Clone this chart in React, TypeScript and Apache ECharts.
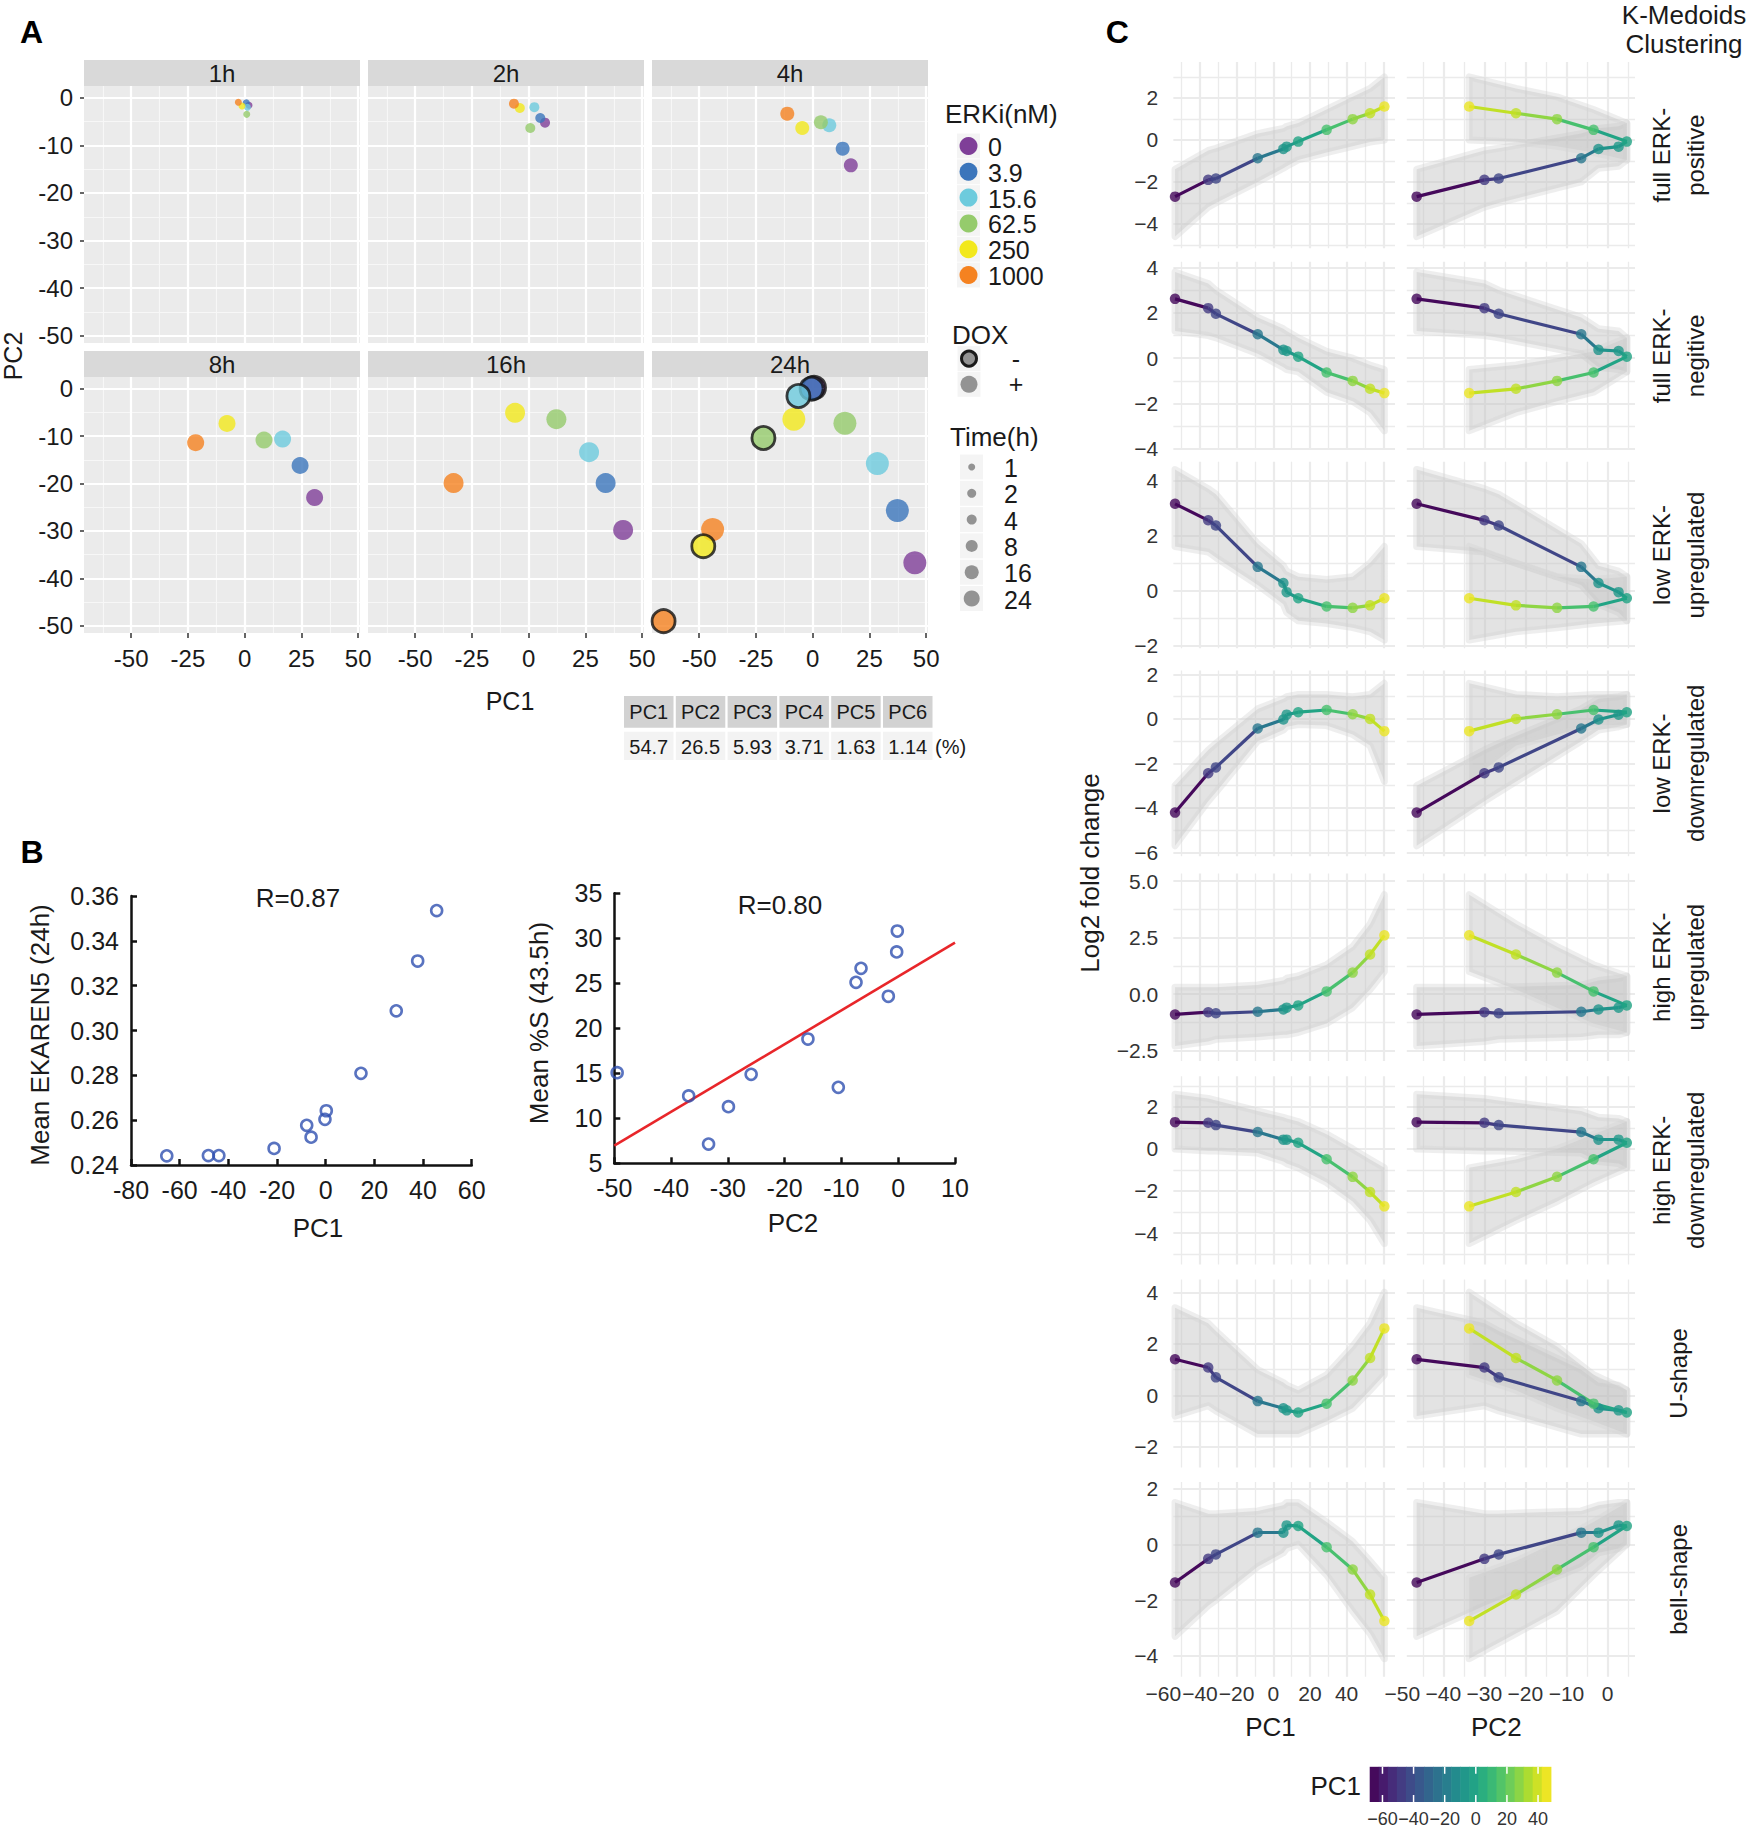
import React, { useEffect, useRef } from "react";
import * as echarts from "echarts";

const W = 1748;
const H = 1828;
const FONT = '"Liberation Sans", Arial, Helvetica, sans-serif';

// ================= Panel A data =================
const erkiLevels = ["0", "3.9", "15.6", "62.5", "250", "1000"];
const timeLabels = ["1h", "2h", "4h", "8h", "16h", "24h"];
const timeLegend = ["1", "2", "4", "8", "16", "24"];
const doxLegend = ["-", "+"];
// PC1 / PC2 for each time point (DOX +), ordered by ERKi level 0 .. 1000
const pc1_1h = [1.9, 0.7, 1.2, 0.9, -1.2, -2.8];
const pc2_1h = [-1.6, -1.05, -2.0, -3.5, -1.74, -0.97];
const pc1_2h = [7.2, 5.1, 2.5, 0.7, -3.9, -6.5];
const pc2_2h = [-5.24, -4.26, -2.0, -6.36, -2.16, -1.25];
const pc1_4h = [16.8, 13.2, 7.3, 3.6, -4.6, -11.2];
const pc2_4h = [-14.2, -10.7, -5.8, -5.17, -6.36, -3.35];
const pc1_8h = [30.8, 24.4, 16.7, 8.5, -7.8, -21.6];
const pc2_8h = [-22.95, -16.2, -10.64, -10.85, -7.35, -11.4];
const pc1_16h = [41.6, 33.9, 26.6, 12.2, -6.0, -33.1];
const pc2_16h = [-29.8, -19.9, -13.4, -6.44, -5.1, -19.9];
const pc1_24h = [45.0, 37.3, 28.5, 14.2, -8.3, -44.1];
const pc2_24h = [-36.7, -25.7, -15.8, -7.28, -6.44, -29.7];
// 24h without DOX
const pc1_24h_noDox = [0.6, -0.5, -6.3, -21.7, -48.2, -65.7];
const pc2_24h_noDox = [0.2, 0.0, -1.55, -10.4, -33.2, -49.0];
// variance explained
const pcNames = ["PC1", "PC2", "PC3", "PC4", "PC5", "PC6"];
const pcVariance = ["54.7", "26.5", "5.93", "3.71", "1.63", "1.14"];

// ================= Panel B data =================
const pc1_B = [-65.3, -48.2, -43.9, -21.2, -7.8, -6.0, -0.3, 0.25, 14.5, 29.0, 37.8, 45.6];
const ekaren5_B = [0.2441, 0.2442, 0.2442, 0.2474, 0.2577, 0.2524, 0.2604, 0.2642, 0.2809, 0.3088, 0.331, 0.3535];
const pc2_B = [-49.5, -36.9, -33.4, -29.9, -25.9, -15.9, -10.55, -7.43, -6.55, -1.74, -0.27, -0.16];
const sPhase_B = [15.07, 12.48, 7.14, 11.29, 14.89, 18.81, 13.44, 25.11, 26.67, 23.56, 28.48, 30.81];
const fitX = [-50, 10];
const fitY = [6.96, 29.51];

// ================= Panel C data =================
const pc1C = [-53.6, -35.5, -31.3, -8.5, 5.5, 7.3, 13.6, 29.1, 43.3, 52.8, 60.6];
const pc2C = [-46.5, -30.0, -26.5, -6.4, -2.2, 2.7, 4.7, -3.4, -12.3, -22.3, -33.7];
const colorPC1 = [-65.7, -48.2, -44.1, -21.7, -8.3, -6.3, -0.5, 14.2, 28.5, 37.3, 45.0];

const fcFullPos = [-2.7, -1.9, -1.84, -0.87, -0.43, -0.32, -0.08, 0.48, 0.99, 1.27, 1.59];
const hiFullPos = [-1.4, -0.5, -0.4, 0.3, 0.55, 0.65, 0.8, 1.45, 2.05, 2.45, 3.0];
const loFullPos = [-4.6, -3.2, -3.0, -2.0, -1.35, -1.25, -0.95, -0.6, -0.3, -0.1, 0.0];

const fcFullNeg = [2.62, 2.21, 1.96, 1.06, 0.37, 0.32, 0.07, -0.63, -1.0, -1.35, -1.54];
const hiFullNeg = [3.8, 3.3, 3.0, 1.8, 1.3, 1.2, 0.9, 0.3, 0.0, -0.3, -0.5];
const loFullNeg = [1.2, 1.0, 0.9, 0.2, -0.4, -0.5, -0.6, -1.5, -1.9, -2.4, -3.2];

const fcLowUp = [3.15, 2.55, 2.36, 0.86, 0.27, -0.06, -0.28, -0.58, -0.63, -0.54, -0.28];
const hiLowUp = [4.4, 3.7, 3.5, 1.7, 0.9, 0.7, 0.5, 0.4, 0.5, 1.0, 1.6];
const loLowUp = [1.6, 1.4, 1.2, 0.2, -0.5, -0.8, -1.1, -1.2, -1.35, -1.5, -1.8];

const fcLowDown = [-4.21, -2.44, -2.18, -0.43, -0.03, 0.19, 0.3, 0.4, 0.21, 0.0, -0.55];
const hiLowDown = [-3.0, -1.4, -1.1, 0.45, 0.9, 1.0, 1.1, 1.1, 1.0, 1.1, 1.6];
const loLowDown = [-5.7, -3.7, -3.3, -1.0, -0.5, -0.35, -0.25, -0.3, -0.7, -1.2, -2.8];

const fcHighUp = [-0.9, -0.8, -0.85, -0.78, -0.68, -0.6, -0.5, 0.12, 0.95, 1.75, 2.6];
const hiHighUp = [0.3, 0.3, 0.3, 0.4, 0.6, 0.7, 0.8, 1.3, 2.1, 3.1, 4.4];
const loHighUp = [-2.3, -2.1, -2.0, -1.9, -1.8, -1.8, -1.7, -1.3, -0.6, 0.2, 1.0];

const fcHighDown = [1.27, 1.24, 1.13, 0.8, 0.44, 0.44, 0.29, -0.49, -1.33, -2.05, -2.73];
const hiHighDown = [2.6, 2.4, 2.3, 1.8, 1.5, 1.45, 1.3, 0.7, 0.0, -0.5, -0.9];
const loHighDown = [0.0, -0.1, -0.1, -0.2, -0.6, -0.7, -0.9, -1.6, -2.5, -3.4, -4.5];

const fcUShape = [1.4, 1.08, 0.7, -0.22, -0.5, -0.58, -0.66, -0.32, 0.58, 1.45, 2.6];
const hiUShape = [3.4, 2.8, 2.5, 1.0, 0.5, 0.4, 0.2, 0.8, 1.9, 2.8, 4.0];
const loUShape = [-0.8, -0.4, -0.6, -1.5, -1.5, -1.5, -1.5, -1.0, -0.5, 0.2, 0.8];

const fcBell = [-1.37, -0.52, -0.36, 0.42, 0.42, 0.68, 0.66, -0.1, -0.9, -1.8, -2.75];
const hiBell = [1.5, 1.1, 1.1, 1.2, 1.4, 1.5, 1.5, 0.8, 0.1, -0.6, -1.2];
const loBell = [-3.3, -2.2, -2.0, -0.8, -0.3, -0.15, 0.0, -1.1, -2.4, -3.2, -4.1];

const clusterLabels = [
  ["full ERK-", "positive"],
  ["full ERK-", "negitive"],
  ["low ERK-", "upregulated"],
  ["low ERK-", "downregulated"],
  ["high ERK-", "upregulated"],
  ["high ERK-", "downregulated"],
  ["U-shape"],
  ["bell-shape"],
];
const clusterFC = [fcFullPos, fcFullNeg, fcLowUp, fcLowDown, fcHighUp, fcHighDown, fcUShape, fcBell];
const clusterHi = [hiFullPos, hiFullNeg, hiLowUp, hiLowDown, hiHighUp, hiHighDown, hiUShape, hiBell];
const clusterLo = [loFullPos, loFullNeg, loLowUp, loLowDown, loHighUp, loHighDown, loUShape, loBell];

// colour bar ticks
const cbarTicks = [-60, -40, -20, 0, 20, 40];

// ================= styles / layout =================
const erkiColors = ["#7f3f98", "#3b75bb", "#6dcbdd", "#95cb6c", "#f2e81c", "#f58220"];
const aPointSize = [7, 10, 14, 17, 20, 23];
const timeLegendSize = [7, 9, 10, 12, 14, 16];
const VIRIDIS = ["#440154", "#482475", "#414487", "#355f8d", "#2a788e", "#21918c", "#22a884", "#44bf70", "#7ad151", "#bddf26", "#fde725"];
const CB_MIN = -68.2;
const CB_MAX = 48.2;

function hex2rgb(h: string) {
  return [parseInt(h.slice(1, 3), 16), parseInt(h.slice(3, 5), 16), parseInt(h.slice(5, 7), 16)];
}
function viridis(t: number) {
  const tt = Math.max(0, Math.min(1, t));
  const n = VIRIDIS.length - 1;
  const i = Math.min(n - 1, Math.floor(tt * n));
  const f = tt * n - i;
  const a = hex2rgb(VIRIDIS[i]);
  const b = hex2rgb(VIRIDIS[i + 1]);
  const c = a.map((v, k) => Math.round(v + (b[k] - v) * f));
  return `rgb(${c[0]},${c[1]},${c[2]})`;
}
const pc1Color = (v: number) => viridis((v - CB_MIN) / (CB_MAX - CB_MIN));
const uminus = (s: string) => s.replace("-", "\u2212");

function txt(text: string, x: number, y: number, size: number, o: any = {}) {
  const align = o.align || "center";
  return {
    type: "text",
    x,
    y,
    rotation: o.rot || 0,
    silent: true,
    z: 100,
    style: {
      text,
      fill: o.color || "#1a1a1a",
      fontSize: size,
      fontFamily: FONT,
      fontWeight: o.bold ? "bold" : "normal",
      align,
      verticalAlign: "middle",
      textAlign: align,
      textVerticalAlign: "middle",
    },
  };
}

function buildOption() {
  const grid: any[] = [];
  const xAxis: any[] = [];
  const yAxis: any[] = [];
  const series: any[] = [];
  const g: any[] = [];

  const hidden = {
    axisLine: { show: false, onZero: false },
    axisTick: { show: false },
    axisLabel: { show: false },
    splitLine: { show: false },
  };

  const addGrid = (left: number, top: number, width: number, height: number, xa: any, ya: any, gopt: any = {}) => {
    const gi = grid.length;
    grid.push({ left, top, width, height, containLabel: false, show: false, ...gopt });
    xAxis.push({ type: "value", gridIndex: gi, ...hidden, ...xa });
    yAxis.push({ type: "value", gridIndex: gi, ...hidden, ...ya });
    return gi;
  };

  const lineSeries = (gi: number, segs: number[][][], color: string, width: number, z: number) => ({
    type: "lines",
    coordinateSystem: "cartesian2d",
    xAxisIndex: gi,
    yAxisIndex: gi,
    silent: true,
    z,
    polyline: false,
    lineStyle: { color, width, opacity: 1, type: "solid", curveness: 0 },
    data: segs.map((c) => ({ coords: c })),
  });

  // ---------------- Panel A ----------------
  const aColLeft = [84, 368, 652];
  const aColW = 276;
  const aRowTop = [86, 377];
  const aRowH = [257, 256];
  const aStripTop = [60, 351];
  const aXMin = -70.8, aXMax = 50.8, aYMin = -51.5, aYMax = 2.45;
  const aXTicks = [-50, -25, 0, 25, 50];
  const aXMinor = [-62.5, -37.5, -12.5, 12.5, 37.5];
  const aYTicks = [-50, -40, -30, -20, -10, 0];
  const aYMinor = [-45, -35, -25, -15, -5];
  const aPC1 = [pc1_1h, pc1_2h, pc1_4h, pc1_8h, pc1_16h, pc1_24h];
  const aPC2 = [pc2_1h, pc2_2h, pc2_4h, pc2_8h, pc2_16h, pc2_24h];

  for (let f = 0; f < 6; f++) {
    const r = f < 3 ? 0 : 1;
    const c = f % 3;
    const showX = r === 1;
    const showY = c === 0;
    const gi = addGrid(
      aColLeft[c], aRowTop[r], aColW, aRowH[r],
      {
        min: aXMin, max: aXMax,
        axisTick: showX ? { show: true, customValues: aXTicks, length: 5, lineStyle: { color: "#333", width: 1.5 } } : { show: false },
        axisLabel: showX ? { show: true, customValues: aXTicks, fontSize: 24, color: "#1a1a1a", margin: 13, fontFamily: FONT } : { show: false },
      },
      {
        min: aYMin, max: aYMax,
        axisTick: showY ? { show: true, customValues: aYTicks, length: 4, lineStyle: { color: "#333", width: 1.5 } } : { show: false },
        axisLabel: showY ? { show: true, customValues: aYTicks, fontSize: 24, color: "#1a1a1a", margin: 11, fontFamily: FONT } : { show: false },
      },
      { show: true, backgroundColor: "#ebebeb", borderWidth: 0 }
    );
    const vMinor = aXMinor.map((v) => [[v, aYMin], [v, aYMax]]);
    const hMinor = aYMinor.map((v) => [[aXMin, v], [aXMax, v]]);
    const vMajor = aXTicks.map((v) => [[v, aYMin], [v, aYMax]]);
    const hMajor = aYTicks.map((v) => [[aXMin, v], [aXMax, v]]);
    series.push(lineSeries(gi, vMinor.concat(hMinor), "#f7f7f7", 1.1, 1));
    series.push(lineSeries(gi, vMajor.concat(hMajor), "#ffffff", 2.2, 1));
    series.push({
      type: "scatter",
      xAxisIndex: gi,
      yAxisIndex: gi,
      z: 3,
      silent: true,
      symbolSize: aPointSize[f],
      data: aPC1[f].map((x, i) => ({ value: [x, aPC2[f][i]], itemStyle: { color: erkiColors[i] } })),
    });
    if (f === 5) {
      series.push({
        type: "scatter",
        xAxisIndex: gi,
        yAxisIndex: gi,
        z: 4,
        silent: true,
        symbolSize: aPointSize[f],
        data: pc1_24h_noDox.map((x, i) => ({
          value: [x, pc2_24h_noDox[i]],
          itemStyle: { color: erkiColors[i], borderColor: "#111", borderWidth: 2.8 },
        })),
      });
    }
    // strip
    g.push({ type: "rect", shape: { x: aColLeft[c], y: aStripTop[r], width: aColW, height: 26 }, style: { fill: "#d9d9d9" }, silent: true });
    g.push(txt(timeLabels[f], aColLeft[c] + aColW / 2, aStripTop[r] + 13.5, 24));
  }
  g.push(txt("A", 31.5, 31.5, 32, { bold: true, color: "#000" }));
  g.push(txt("PC1", 510, 701, 25));
  g.push(txt("PC2", 13, 356, 25, { rot: Math.PI / 2 }));

  // legends
  g.push(txt("ERKi(nM)", 945, 114, 26, { align: "left" }));
  erkiLevels.forEach((lab, i) => {
    const y = 146 + i * 25.8;
    g.push({ type: "rect", shape: { x: 957, y: y - 12.5, width: 23, height: 25 }, style: { fill: "#f4f4f4" }, silent: true });
    g.push({ type: "circle", shape: { cx: 968.5, cy: y, r: 9 }, style: { fill: erkiColors[i] }, silent: true });
    g.push(txt(lab, 988, y + 1, 25, { align: "left" }));
  });
  g.push(txt("DOX", 952, 335, 26, { align: "left" }));
  doxLegend.forEach((lab, i) => {
    const y = 358.6 + i * 25.7;
    g.push({ type: "rect", shape: { x: 957.5, y: y - 12.5, width: 23, height: 25 }, style: { fill: "#f4f4f4" }, silent: true });
    g.push({
      type: "circle",
      shape: { cx: 969, cy: y, r: i === 0 ? 7.5 : 8.5 },
      style: { fill: "#939393", stroke: i === 0 ? "#1a1a1a" : null, lineWidth: i === 0 ? 3 : 0 },
      silent: true,
    });
    g.push(txt(lab, 1016, y, 25));
  });
  g.push(txt("Time(h)", 950, 437, 26, { align: "left" }));
  timeLegend.forEach((lab, i) => {
    const y = 467 + i * 26.3;
    g.push({ type: "rect", shape: { x: 960, y: y - 12.5, width: 23, height: 25 }, style: { fill: "#f4f4f4" }, silent: true });
    g.push({ type: "circle", shape: { cx: 971.7, cy: y, r: timeLegendSize[i] / 2 }, style: { fill: "#939393" }, silent: true });
    g.push(txt(lab, 1004, y + 1, 25, { align: "left" }));
  });

  // variance table
  pcNames.forEach((nm, i) => {
    const x0 = 624 + i * 51.8;
    g.push({ type: "rect", shape: { x: x0, y: 696, width: 49.5, height: 31.7 }, style: { fill: "#d2d2d2" }, silent: true });
    g.push(txt(nm, x0 + 24.75, 712, 20));
    g.push({ type: "rect", shape: { x: x0, y: 731.7, width: 49.5, height: 28.3 }, style: { fill: "#f3f3f3" }, silent: true });
    g.push(txt(pcVariance[i], x0 + 24.75, 746.5, 20));
  });
  g.push(txt("(%)", 935, 746.5, 20, { align: "left" }));

  // ---------------- Panel B ----------------
  const bAxis = (min: number, max: number, interval: number, fmt?: any) => ({
    min, max, interval,
    axisLine: { show: true, onZero: false, lineStyle: { color: "#111", width: 2.5 } },
    axisTick: { show: true, inside: true, length: 6, lineStyle: { color: "#111", width: 2.5 } },
    axisLabel: { show: true, fontSize: 25, color: "#1a1a1a", margin: 12, fontFamily: FONT, formatter: fmt },
    splitLine: { show: false },
  });
  const hollow = { color: "rgba(255,255,255,0)", borderColor: "#3050b0", borderWidth: 2.6 };
  const bl = addGrid(131, 896, 340.7, 269, bAxis(-80, 60, 20), bAxis(0.24, 0.36, 0.02, (v: number) => v.toFixed(2)));
  series.push({
    type: "scatter", xAxisIndex: bl, yAxisIndex: bl, z: 3, silent: true, symbolSize: 11,
    itemStyle: hollow,
    data: pc1_B.map((x, i) => [x, ekaren5_B[i]]),
  });
  const br = addGrid(614.3, 893.3, 340.7, 270, bAxis(-50, 10, 10), bAxis(5, 35, 5));
  series.push({
    type: "line", xAxisIndex: br, yAxisIndex: br, z: 2, silent: true, showSymbol: false, symbol: "none",
    lineStyle: { color: "#e8262a", width: 2.6 },
    data: fitX.map((x, i) => [x, fitY[i]]),
  });
  series.push({
    type: "scatter", xAxisIndex: br, yAxisIndex: br, z: 3, silent: true, symbolSize: 11,
    itemStyle: hollow,
    data: pc2_B.map((x, i) => [x, sPhase_B[i]]),
  });
  g.push(txt("B", 32, 851.7, 32, { bold: true, color: "#000" }));
  g.push(txt("R=0.87", 298, 898, 26));
  g.push(txt("R=0.80", 780, 905, 26));
  g.push(txt("PC1", 318, 1228, 26));
  g.push(txt("PC2", 793, 1223, 26));
  g.push(txt("Mean EKAREN5 (24h)", 40, 1035, 26, { rot: Math.PI / 2 }));
  g.push(txt("Mean %S (43.5h)", 539, 1023, 26, { rot: Math.PI / 2 }));

  // ---------------- Panel C ----------------
  const rowsC = [
    { top: 62, bottom: 248.3, ymin: -5.16, ymax: 3.71, labels: [-4, -2, 0, 2], minor: [-5, -3, -1, 1, 3], dec: 0 },
    { top: 261.7, bottom: 450, ymin: -4.05, ymax: 4.26, labels: [-4, -2, 0, 2, 4], minor: [-3, -1, 1, 3], dec: 0 },
    { top: 461.7, bottom: 648.3, ymin: -2.1, ymax: 4.68, labels: [-2, 0, 2, 4], minor: [-1, 1, 3], dec: 0 },
    { top: 670.6, bottom: 856.2, ymin: -6.17, ymax: 2.17, labels: [-6, -4, -2, 0, 2], minor: [-5, -3, -1, 1], dec: 0 },
    { top: 873.4, bottom: 1061, ymin: -2.96, ymax: 5.34, labels: [-2.5, 0, 2.5, 5], minor: [-1.25, 1.25, 3.75], dec: 1 },
    { top: 1076.3, bottom: 1264.4, ymin: -5.49, ymax: 3.45, labels: [-4, -2, 0, 2], minor: [-5, -3, -1, 1, 3], dec: 0 },
    { top: 1279.4, bottom: 1467.6, ymin: -2.8, ymax: 4.5, labels: [-2, 0, 2, 4], minor: [-1, 1, 3], dec: 0 },
    { top: 1481.9, bottom: 1676.8, ymin: -4.75, ymax: 2.24, labels: [-4, -2, 0, 2], minor: [-3, -1, 1], dec: 0 },
  ];
  const colsC = [
    { left: 1163.3, width: 231.7, xmin: -60, xmax: 66.4, hx0: -54.5, vMajor: [-40, -20, 0, 20, 40, 60], vMinor: [-50, -30, -10, 10, 30, 50], labels: [-60, -40, -20, 0, 20, 40] },
    { left: 1402.3, width: 232.7, xmin: -50, xmax: 6.7, hx0: -48.9, vMajor: [-40, -30, -20, -10, 0], vMinor: [-45, -35, -25, -15, -5, 5], labels: [-50, -40, -30, -20, -10, 0] },
  ];
  const ptColors = colorPC1.map(pc1Color);
  const gridGray = "#ebebeb";

  rowsC.forEach((row, r) => {
    const fc = clusterFC[r];
    const hi = clusterHi[r];
    const lo = clusterLo[r];
    colsC.forEach((col, c) => {
      const xs = c === 0 ? pc1C : pc2C;
      const bottomRow = r === rowsC.length - 1;
      const gi = addGrid(
        col.left, row.top, col.width, row.bottom - row.top,
        {
          min: col.xmin, max: col.xmax,
          axisLabel: bottomRow
            ? { show: true, customValues: col.labels, fontSize: 21, color: "#333", margin: 6, fontFamily: FONT, formatter: (v: number) => uminus(String(v)) }
            : { show: false },
        },
        {
          min: row.ymin, max: row.ymax,
          axisLabel: c === 0
            ? { show: true, customValues: row.labels, fontSize: 21, color: "#333", margin: 5, fontFamily: FONT, formatter: (v: number) => uminus(v.toFixed(row.dec)) }
            : { show: false },
        }
      );
      const vMin = col.vMinor.map((v) => [[v, row.ymin], [v, row.ymax]]);
      const vMaj = col.vMajor.map((v) => [[v, row.ymin], [v, row.ymax]]);
      const hMin = row.minor.map((v) => [[col.hx0, v], [col.xmax, v]]);
      const hMaj = row.labels.map((v) => [[col.hx0, v], [col.xmax, v]]);
      series.push(lineSeries(gi, vMin.concat(hMin), gridGray, 1.3, 1));
      series.push(lineSeries(gi, vMaj.concat(hMaj), gridGray, 2.2, 1));

      const branches = c === 0 ? [[0, 10]] : [[0, 6], [6, 10]];
      branches.forEach(([a, b]) => {
        const bx = xs.slice(a, b + 1);
        const bh = hi.slice(a, b + 1);
        const bl2 = lo.slice(a, b + 1);
        series.push({
          type: "custom",
          xAxisIndex: gi,
          yAxisIndex: gi,
          silent: true,
          z: 2,
          data: [[bx[0], bh[0]]],
          renderItem: (_p: any, api: any) => {
            const top = bx.map((x, i) => api.coord([x, bh[i]]));
            const bot = bx.map((x, i) => api.coord([x, bl2[i]])).reverse();
            return {
              type: "polygon",
              shape: { points: top.concat(bot) },
              style: { fill: "rgba(192,192,192,0.45)", stroke: "rgba(212,212,212,0.4)", lineWidth: 7, lineJoin: "round" },
            };
          },
        });
      });
      series.push({
        type: "lines",
        coordinateSystem: "cartesian2d",
        xAxisIndex: gi,
        yAxisIndex: gi,
        silent: true,
        z: 3,
        lineStyle: { width: 3, opacity: 1, curveness: 0 },
        data: xs.slice(0, -1).map((x, i) => ({
          coords: [[x, fc[i]], [xs[i + 1], fc[i + 1]]],
          lineStyle: { color: ptColors[i], width: 3.2, opacity: 1 },
        })),
      });
      series.push({
        type: "scatter",
        xAxisIndex: gi,
        yAxisIndex: gi,
        silent: true,
        z: 4,
        symbolSize: 10.5,
        data: xs.map((x, i) => ({ value: [x, fc[i]], itemStyle: { color: ptColors[i] } })),
      });
    });
    // strip labels
    const lines = clusterLabels[r];
    const cy = (row.top + row.bottom) / 2;
    if (lines.length === 2) {
      g.push(txt(lines[0], 1661.6, cy, 24, { rot: Math.PI / 2 }));
      g.push(txt(lines[1], 1695.7, cy, 24, { rot: Math.PI / 2 }));
    } else {
      g.push(txt(lines[0], 1678.6, cy, 24, { rot: Math.PI / 2 }));
    }
  });
  g.push(txt("C", 1117.3, 31.7, 32, { bold: true, color: "#000" }));
  g.push(txt("K-Medoids", 1684, 15, 26));
  g.push(txt("Clustering", 1684, 44, 26));
  g.push(txt("Log2 fold change", 1090, 873, 26, { rot: Math.PI / 2 }));
  g.push(txt("PC1", 1270.5, 1727, 26));
  g.push(txt("PC2", 1496.3, 1727, 26));

  // colour bar
  const cg = addGrid(
    1369.7, 1766.8, 181.1, 35.6,
    {
      min: CB_MIN, max: CB_MAX,
      axisLabel: { show: true, customValues: cbarTicks, fontSize: 18, color: "#333", margin: 8, fontFamily: FONT, formatter: (v: number) => uminus(String(v)) },
    },
    { min: 0, max: 1 }
  );
  const nBins = 20;
  const bins = Array.from({ length: nBins }, (_, k) => [
    CB_MIN + (k * (CB_MAX - CB_MIN)) / nBins,
    CB_MIN + ((k + 1) * (CB_MAX - CB_MIN)) / nBins,
  ]);
  series.push({
    type: "custom",
    xAxisIndex: cg,
    yAxisIndex: cg,
    silent: true,
    z: 2,
    data: bins,
    renderItem: (_p: any, api: any) => {
      const x0 = api.value(0);
      const x1 = api.value(1);
      const a = api.coord([x0, 1]);
      const b = api.coord([x1, 0]);
      return {
        type: "rect",
        shape: { x: a[0], y: a[1], width: b[0] - a[0] + 0.6, height: b[1] - a[1] },
        style: { fill: viridis(((x0 + x1) / 2 - CB_MIN) / (CB_MAX - CB_MIN)) },
      };
    },
  });
  series.push({
    type: "custom",
    xAxisIndex: cg,
    yAxisIndex: cg,
    silent: true,
    z: 3,
    data: cbarTicks.map((v) => [v, 0]),
    renderItem: (_p: any, api: any) => {
      const x = api.coord([api.value(0), 0])[0];
      const yt = api.coord([0, 1])[1];
      const yb = api.coord([0, 0])[1];
      return {
        type: "group",
        children: [
          { type: "line", shape: { x1: x, y1: yt, x2: x, y2: yt + 7 }, style: { stroke: "#fff", lineWidth: 1.5 } },
          { type: "line", shape: { x1: x, y1: yb - 7, x2: x, y2: yb }, style: { stroke: "#fff", lineWidth: 1.5 } },
        ],
      };
    },
  });
  g.push(txt("PC1", 1361, 1785.6, 26, { align: "right" }));

  return {
    animation: false,
    backgroundColor: "#ffffff",
    textStyle: { fontFamily: FONT },
    grid,
    xAxis,
    yAxis,
    series,
    graphic: { elements: g },
  };
}

export default function App() {
  const ref = useRef<HTMLDivElement>(null);
  useEffect(() => {
    const el = ref.current;
    if (!el) return;
    const chart = echarts.init(el, undefined, { renderer: "svg", width: W, height: H });
    chart.setOption(buildOption() as any);
    return () => {
      chart.dispose();
    };
  }, []);
  return (
    <div
      ref={ref}
      style={{ position: "fixed", left: 0, top: 0, width: W, height: H, background: "#fff" }}
    />
  );
}
